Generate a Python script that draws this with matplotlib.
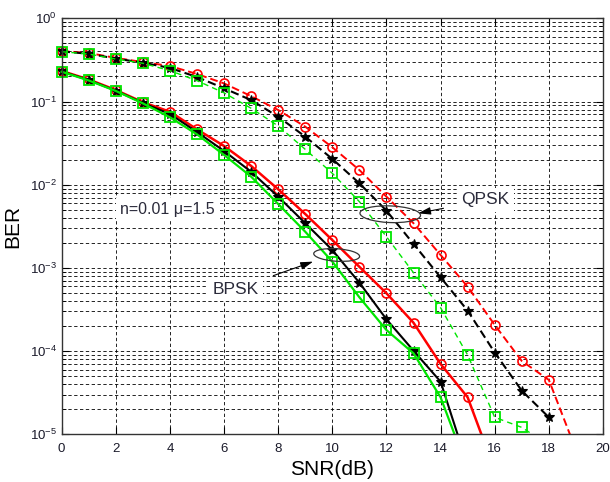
import matplotlib
matplotlib.use("Agg")
import matplotlib.pyplot as plt
from matplotlib.patches import Ellipse
from matplotlib.transforms import Bbox, TransformedBbox
import numpy as np

plt.rcParams['font.family'] = ['Liberation Sans', 'DejaVu Sans']
plt.rcParams['mathtext.default'] = 'regular'

# ---- data (SNR in dB, BER) ----
snr_bpsk_red = list(range(0, 17))
ber_bpsk_red = [0.233, 0.184, 0.1375, 0.098, 0.0754, 0.0463, 0.0292, 0.0168, 0.00881,
                0.00444, 0.00216, 0.00103, 4.95e-4, 2.19e-4, 7.0e-5, 2.78e-5, 3.7e-6]
snr_bpsk_black = list(range(0, 16))
ber_bpsk_black = [0.230, 0.181, 0.135, 0.096, 0.0707, 0.043, 0.0254, 0.0143, 0.00718,
                  0.00344, 0.00164, 6.64e-4, 2.41e-4, 1.01e-4, 4.29e-5, 4.2e-6]
snr_bpsk_green = list(range(0, 16))
ber_bpsk_green = [0.228, 0.179, 0.134, 0.095, 0.0646, 0.0403, 0.0228, 0.0125, 0.00586,
                  0.00272, 0.00119, 4.43e-4, 1.79e-4, 9.4e-5, 2.78e-5, 3.8e-6]

snr_qpsk_red = list(range(0, 20))
ber_qpsk_red = [0.404, 0.383, 0.334, 0.298, 0.267, 0.214, 0.165, 0.116, 0.079, 0.0498,
                0.0282, 0.0150, 0.00718, 0.00344, 0.00143, 5.94e-4, 2.06e-4, 7.6e-5,
                4.5e-5, 6.5e-6]
snr_qpsk_black = list(range(0, 19))
ber_qpsk_black = [0.400, 0.375, 0.328, 0.293, 0.253, 0.197, 0.144, 0.104, 0.0657, 0.0378,
                  0.0204, 0.0104, 0.00487, 0.00194, 7.7e-4, 3.06e-4, 9.6e-5, 3.34e-5, 1.6e-5]
snr_qpsk_green = list(range(0, 19))
ber_qpsk_green = [0.397, 0.372, 0.324, 0.288, 0.235, 0.178, 0.127, 0.0829, 0.0508, 0.0266,
                  0.0137, 0.00625, 0.00237, 8.75e-4, 3.32e-4, 8.97e-5, 1.6e-5, 1.21e-5, 7.4e-6]

x_ticks = list(range(0, 21, 2))
label_param = "n=0.01 \u03bc=1.5"

RED = '#ff0000'
GREEN = '#00e600'

fig = plt.figure(figsize=(6.10, 4.82), dpi=100)
ax = fig.add_axes([0.1011, 0.099, 0.8874, 0.863])
ax.set_yscale('log')
ax.set_xlim(0, 20)
ax.set_ylim(1e-5, 1)

dash_grid = (0, (4, 3))
ax.grid(True, which='major', axis='both', color='k', linestyle=dash_grid, linewidth=0.6)
ax.grid(True, which='minor', axis='y', color='k', linestyle=dash_grid, linewidth=0.6)
ax.set_axisbelow(True)

lines = []
# QPSK (dashed)
lines += ax.plot(snr_qpsk_red, ber_qpsk_red, color=RED, linestyle=(0, (4, 2)), linewidth=1.4,
                 marker='o', markersize=6.5, markerfacecolor='none', markeredgewidth=1.2)
lines += ax.plot(snr_qpsk_black, ber_qpsk_black, color='k', linestyle=(0, (4, 2)), linewidth=1.5,
                 marker='*', markersize=7, markerfacecolor='k', markeredgewidth=0.8)
lines += ax.plot(snr_qpsk_green, ber_qpsk_green, color=GREEN, linestyle=(0, (4, 3)), linewidth=1.0,
                 marker='s', markersize=7, markerfacecolor='none', markeredgewidth=1.3)
# BPSK (solid)
lines += ax.plot(snr_bpsk_red, ber_bpsk_red, color=RED, linestyle='-', linewidth=1.8,
                 marker='o', markersize=6.5, markerfacecolor='none', markeredgewidth=1.2)
lines += ax.plot(snr_bpsk_black, ber_bpsk_black, color='k', linestyle='-', linewidth=1.5,
                 marker='*', markersize=7, markerfacecolor='k', markeredgewidth=0.8)
lines += ax.plot(snr_bpsk_green, ber_bpsk_green, color=GREEN, linestyle='-', linewidth=1.6,
                 marker='s', markersize=7, markerfacecolor='none', markeredgewidth=1.3)

clip = TransformedBbox(Bbox([[-0.03, 0.0], [1.0, 1.0]]), ax.transAxes)
for ln in lines:
    ln.set_clip_box(clip)

ax.set_xticks(x_ticks)
ax.tick_params(axis='both', which='both', direction='in', top=True, right=True,
               labelsize=9.5, colors='k', labelcolor='#1a1a2a')
ax.tick_params(axis='both', which='major', length=5)
ax.tick_params(axis='y', which='minor', length=3)
ax.tick_params(axis='x', pad=6)

for s in ax.spines.values():
    s.set_linewidth(1.0)
    s.set_color('#333333')

ax.set_xlabel('SNR(dB)', fontsize=15, labelpad=4)
ax.set_ylabel('BER', fontsize=15)
ax.yaxis.set_label_coords(-0.073, 0.5)

bbox_w = dict(boxstyle='square,pad=0.25', facecolor='white', edgecolor='none')
ax.text(2.15, 4.97e-3, label_param, fontsize=11.5, va='center', ha='left',
        color='#2a2a3a', bbox=bbox_w)
ax.annotate('BPSK', xy=(9.29, 1.19e-3), xytext=(6.42, 5.57e-4), fontsize=12.5,
            va='center', ha='center', color='#2a2a3a', bbox=bbox_w,
            arrowprops=dict(arrowstyle='-|>,head_length=0.6,head_width=0.18', color='k',
                            lw=0.8, shrinkA=8, shrinkB=0))
ax.annotate('QPSK', xy=(13.17, 4.53e-3), xytext=(15.66, 6.55e-3), fontsize=12.5,
            va='center', ha='center', color='#2a2a3a', bbox=bbox_w,
            arrowprops=dict(arrowstyle='-|>,head_length=0.6,head_width=0.18', color='k',
                            lw=0.8, shrinkA=10, shrinkB=0))

ax.add_patch(Ellipse((0.508, 0.431), 0.085, 0.030, angle=-5, transform=ax.transAxes,
                     fill=False, edgecolor='#333333', lw=0.9, zorder=5))
ax.add_patch(Ellipse((0.607, 0.529), 0.112, 0.040, angle=-3, transform=ax.transAxes,
                     fill=False, edgecolor='#333333', lw=0.9, zorder=5))

fig.savefig('out.png', dpi=100)
